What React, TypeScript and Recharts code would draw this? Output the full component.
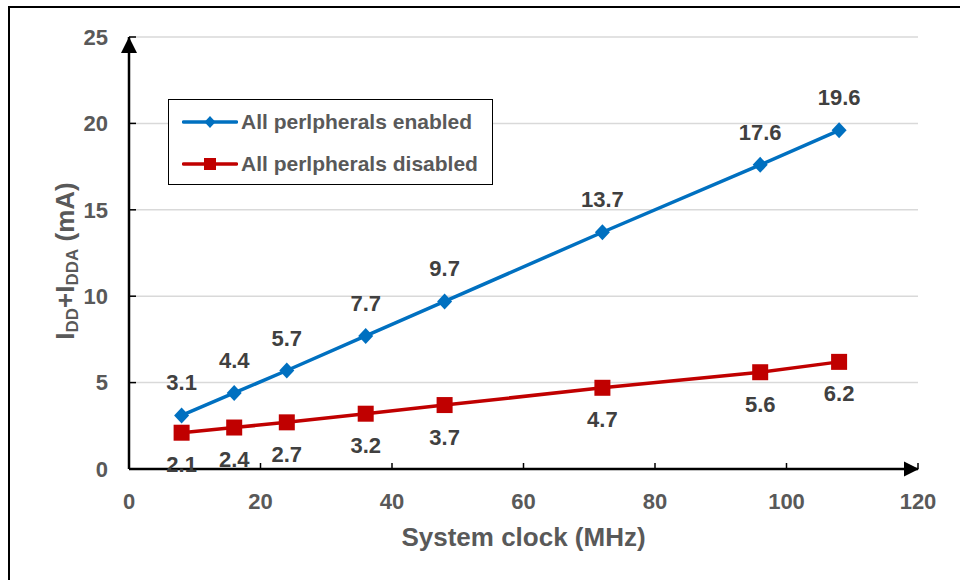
import React from 'react';
import { LineChart, Line, XAxis, YAxis, CartesianGrid, Legend, LabelList, ReferenceDot } from 'recharts';

const clockMHz = [8, 16, 24, 36, 48, 72, 96, 108];
const enabledMA = [3.1, 4.4, 5.7, 7.7, 9.7, 13.7, 17.6, 19.6];
const disabledMA = [2.1, 2.4, 2.7, 3.2, 3.7, 4.7, 5.6, 6.2];
const xTicks = [0, 20, 40, 60, 80, 100, 120];
const yTicks = [0, 5, 10, 15, 20, 25];
const seriesNames = ['All perlpherals enabled', 'All perlpherals disabled'];
const seriesColors = ['#0070C0', '#C00000'];

const data = clockMHz.map((x, i) => ({ x, enabled: enabledMA[i], disabled: disabledMA[i] }));

const FONT = '"Liberation Sans", Arial, sans-serif';
const TICK_COLOR = '#595959';
const LABEL_COLOR = '#404040';

const Diamond = (p: any) => {
  const { cx, cy } = p;
  if (cx == null || cy == null) return <g key={p.index} />;
  return (
    <polygon
      key={p.index}
      points={`${cx},${cy - 8} ${cx + 7.5},${cy} ${cx},${cy + 8} ${cx - 7.5},${cy}`}
      fill={seriesColors[0]}
    />
  );
};

const Square = (p: any) => {
  const { cx, cy } = p;
  if (cx == null || cy == null) return <g key={p.index} />;
  return <rect key={p.index} x={cx - 8} y={cy - 8} width={16} height={16} fill={seriesColors[1]} />;
};

const UpArrow = (p: any) => {
  const { cx, cy } = p;
  return <polygon points={`${cx},${cy} ${cx + 8},${cy + 16} ${cx - 8},${cy + 16}`} fill="#000" />;
};

const RightArrow = (p: any) => {
  const { cx, cy } = p;
  return <polygon points={`${cx + 1},${cy} ${cx - 14},${cy - 7.5} ${cx - 14},${cy + 7.5}`} fill="#000" />;
};

const YTitle = (props: any) => {
  const vb = props.viewBox || {};
  const x = (vb.x ?? 0) + 65;
  const y = (vb.y ?? 0) + (vb.height ?? 0) / 2 + 8;
  return (
    <text
      x={x}
      y={y}
      transform={`rotate(-90, ${x}, ${y})`}
      textAnchor="middle"
      dominantBaseline="central"
      fill={TICK_COLOR}
      fontSize={26}
      fontWeight="bold"
      fontFamily={FONT}
    >
      <tspan>I</tspan>
      <tspan fontSize={17} dy={7}>DD</tspan>
      <tspan dy={-7}>+I</tspan>
      <tspan fontSize={17} dy={7}>DDA</tspan>
      <tspan dy={-7}> (mA)</tspan>
    </text>
  );
};

const XTitle = (props: any) => {
  const vb = props.viewBox || {};
  const x = (vb.x ?? 0) + (vb.width ?? 0) / 2;
  const y = (vb.y ?? 0) + 68;
  return (
    <text
      x={x}
      y={y}
      textAnchor="middle"
      dominantBaseline="central"
      fill={TICK_COLOR}
      fontSize={26}
      fontWeight="bold"
      fontFamily={FONT}
    >
      System clock (MHz)
    </text>
  );
};

const LegendBox = () => (
  <div
    style={{
      border: '1.5px solid #000',
      background: '#fff',
      width: 323,
      height: 84,
      boxSizing: 'content-box',
      fontFamily: FONT,
      position: 'relative',
    }}
  >
    {seriesNames.map((name, i) => (
      <div
        key={name}
        style={{
          position: 'absolute',
          left: 13,
          top: i === 0 ? 10 : 52,
          height: 24,
          display: 'flex',
          alignItems: 'center',
          whiteSpace: 'nowrap',
        }}
      >
        <svg width={56} height={20} style={{ display: 'block' }}>
          <line x1={1.5} y1={10} x2={54.5} y2={10} stroke={seriesColors[i]} strokeWidth={3.5} strokeLinecap="round" />
          {i === 0 ? (
            <polygon points="28,4 33.5,10 28,16 22.5,10" fill={seriesColors[0]} />
          ) : (
            <rect x={22} y={4} width={12} height={12} fill={seriesColors[1]} />
          )}
        </svg>
        <span style={{ marginLeft: 3, fontSize: 21, fontWeight: 'bold', color: TICK_COLOR }}>{name}</span>
      </div>
    ))}
  </div>
);

export default function App() {
  return (
    <div
      style={{
        position: 'fixed',
        left: 0,
        top: 0,
        width: 960,
        height: 580,
        overflow: 'hidden',
        background: '#fff',
        fontFamily: FONT,
      }}
    >
      <div style={{ position: 'absolute', left: 0, top: 0 }}>
        <LineChart
          width={960}
          height={580}
          data={data}
          margin={{ top: 37, right: 42, bottom: 0, left: 0 }}
          style={{ fontFamily: FONT }}
        >
          <CartesianGrid vertical={false} stroke="#d9d9d9" strokeWidth={1.5} />
          <XAxis
            dataKey="x"
            type="number"
            domain={[0, 120]}
            ticks={xTicks}
            height={111}
            axisLine={{ stroke: '#000', strokeWidth: 2.5 }}
            tickLine={{ stroke: '#000', strokeWidth: 1.5 }}
            tickSize={-6}
            tickMargin={30}
            tick={{ fill: TICK_COLOR, fontSize: 22, fontWeight: 'bold' }}
            interval={0}
            label={<XTitle />}
          />
          <YAxis
            type="number"
            domain={[0, 25]}
            ticks={yTicks}
            width={129}
            axisLine={{ stroke: '#000', strokeWidth: 2.5 }}
            tickLine={{ stroke: '#000', strokeWidth: 1.5 }}
            tickSize={-7}
            tickMargin={28}
            tick={{ fill: TICK_COLOR, fontSize: 22, fontWeight: 'bold' }}
            interval={0}
            label={<YTitle />}
          />
          <Legend
            layout="horizontal"
            verticalAlign="middle"
            align="center"
            content={<LegendBox />}
            wrapperStyle={{ position: 'absolute', left: 168, top: 99, width: 'auto', height: 'auto' }}
          />
          <Line
            type="linear"
            dataKey="enabled"
            name={seriesNames[0]}
            stroke={seriesColors[0]}
            strokeWidth={3.5}
            dot={Diamond}
            activeDot={false}
            isAnimationActive={false}
          >
            <LabelList
              dataKey="enabled"
              position="top"
              offset={25}
              fill={LABEL_COLOR}
              fontSize={22}
              fontWeight="bold"
            />
          </Line>
          <Line
            type="linear"
            dataKey="disabled"
            name={seriesNames[1]}
            stroke={seriesColors[1]}
            strokeWidth={3.5}
            dot={Square}
            activeDot={false}
            isAnimationActive={false}
          >
            <LabelList
              dataKey="disabled"
              position="bottom"
              offset={24}
              fill={LABEL_COLOR}
              fontSize={22}
              fontWeight="bold"
            />
          </Line>
          <ReferenceDot x={0} y={25} r={0} ifOverflow="visible" shape={UpArrow} />
          <ReferenceDot x={120} y={0} r={0} ifOverflow="visible" shape={RightArrow} />
        </LineChart>
      </div>
      <div
        style={{
          position: 'absolute',
          left: 8,
          top: 6,
          width: 960,
          height: 2,
          background: '#000',
          zIndex: 5,
          pointerEvents: 'none',
        }}
      />
      <div
        style={{
          position: 'absolute',
          left: 8,
          top: 6,
          width: 2,
          height: 580,
          background: '#000',
          zIndex: 5,
          pointerEvents: 'none',
        }}
      />
    </div>
  );
}
